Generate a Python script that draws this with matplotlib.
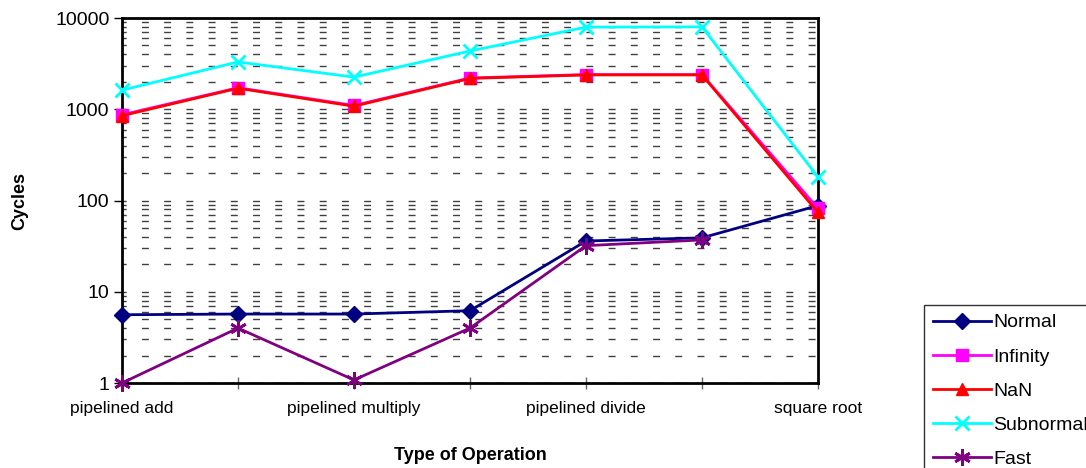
import numpy as np
import matplotlib
matplotlib.use("Agg")
import matplotlib.pyplot as plt
from matplotlib.ticker import LogLocator, FixedLocator, NullFormatter

plt.rcParams["font.family"] = ["Liberation Sans", "DejaVu Sans"]

operations = ["pipelined add", "add", "pipelined multiply", "multiply",
              "pipelined divide", "divide", "square root"]
# Excel only printed every other category label
tick_labels = [op if i % 2 == 0 else "" for i, op in enumerate(operations)]

normal = [5.6, 5.7, 5.7, 6.2, 36, 39, 88]
infinity = [870, 1720, 1100, 2200, 2400, 2400, 82]
nan_vals = [850, 1700, 1080, 2180, 2380, 2380, 74]
subnormal = [1620, 3300, 2250, 4350, 7950, 8000, 181]
fast = [1.0, 4.0, 1.08, 4.0, 32, 37, np.nan]

series = [
    ("Normal", normal, "#000080", "D", 8),
    ("Infinity", infinity, "#FF00FF", "s", 9),
    ("NaN", nan_vals, "#FF0000", "^", 9),
    ("Subnormal", subnormal, "#00FFFF", "x", 10),
    ("Fast", fast, "#800080", (6, 2, 0), 12),
]

fig = plt.figure(figsize=(10.86, 4.68), dpi=100)
ax = fig.add_axes([0.1123, 0.1816, 0.6409, 0.7799])

x = np.arange(len(operations))
for name, vals, color, marker, ms in series:
    thin = marker == "x" or isinstance(marker, tuple)
    ax.plot(x, vals, color=color, marker=marker, markersize=ms, lw=2,
            markeredgewidth=2 if thin else 1,
            markeredgecolor=color, label=name, clip_on=False, zorder=3)

ax.set_yscale("log")
ax.set_ylim(1, 10000)
ax.set_xlim(0, len(operations) - 1)
ax.yaxis.set_major_locator(FixedLocator([1, 10, 100, 1000, 10000]))
ax.set_yticklabels(["1", "10", "100", "1000", "10000"])
ax.yaxis.set_minor_locator(LogLocator(base=10, subs=np.arange(2, 10)))
ax.yaxis.set_minor_formatter(NullFormatter())
ax.tick_params(axis="y", which="minor", length=0)
ax.tick_params(axis="y", which="major", length=6, width=1, direction="out",
               labelsize=14, pad=3)

ax.set_xticks(x)
ax.set_xticklabels(tick_labels)
ax.tick_params(axis="x", length=8, width=1, direction="inout", color="#666666",
               labelsize=12.5, pad=9)

ax.grid(True, which="both", axis="y", color="#404040", lw=1,
        linestyle=(2, (5, 11)))

for side in ["left", "bottom", "top", "right"]:
    ax.spines[side].set_linewidth(2)
    ax.spines[side].set_color("black")

ax.set_ylabel("Cycles", fontsize=13, fontweight="bold", labelpad=19)
ax.set_xlabel("Type of Operation", fontsize=13, fontweight="bold", labelpad=22)

leg = fig.legend(loc="upper left", bbox_to_anchor=(0.851, 0.348),
                 fontsize=14, frameon=True, fancybox=False, edgecolor="black",
                 handlelength=3.0, handletextpad=0.1, labelspacing=0.85,
                 borderpad=0.45, borderaxespad=0)
leg.get_frame().set_linewidth(1)

fig.savefig("out.png", dpi=100)
